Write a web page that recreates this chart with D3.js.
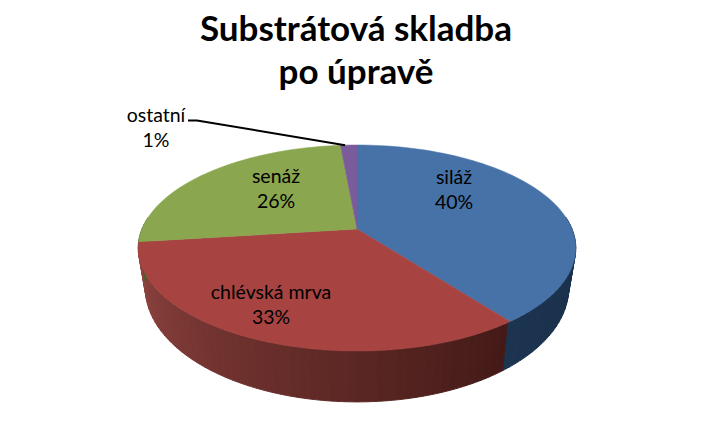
<!DOCTYPE html>
<html>
<head>
<meta charset="utf-8">
<script src="https://cdn.jsdelivr.net/npm/d3@7"></script>
<style>
  html, body { margin: 0; padding: 0; background: #fff; }
  svg { display: block; }
  text { font-family: Lato, sans-serif; fill: #000; }
</style>
</head>
<body>
<svg id="chart" width="710" height="439"></svg>
<script>
// Chart data
const titleLines = ["Substrátová skladba", "po úpravě"];
const categories = ["siláž", "chlévská mrva", "senáž", "ostatní"];
const shares = [39.6, 33.4, 25.55, 1.45];
const topColors = ["#4672a8", "#a74442", "#8aa64f", "#7a5b9b"];
const wallLight = ["#1c3450", "#924541", "#6f8640", "#5d4677"];
const wallDark = ["#182d47", "#421916", "#4c5c2b", "#3c2c4e"];

const svg = d3.select("#chart");
const cx = 357;

// Perspective projection of the pie's top face and bottom rim
const topFace = { c: 229, rx: 215, s: 99.5, k: 0.1845 };
const bottomFace = { c: 267, rx: 208, s: 110, k: 0.1845 };

function project(face, angle) {
    const u = Math.sin(angle);
    const v = -Math.cos(angle);
    const d = 1 - face.k * v;
    return [cx + face.rx * u / d, face.c + face.s * v / d];
}

const pie = d3.pie().sort(null).value(d => d);
const slices = pie(shares);
const TWO_PI = Math.PI * 2;

// Walls are only seen on the front half, cut in strips like the original shading
const wallStart = Math.PI / 2 - 0.12;
const wallEnd = Math.PI * 1.5 + 0.12;
const stripCount = 90;
const stripAngle = d3.scaleLinear().domain([0, stripCount]).range([wallStart, wallEnd]);

const walls = svg.append("g");
d3.range(stripCount).forEach(i => {
    const a0 = stripAngle(i);
    const a1 = stripAngle(i + 1);
    const mid = (a0 + a1) / 2;
    const index = slices.findIndex(s => mid >= s.startAngle && mid < s.endAngle);
    // dark where the slice's wall starts, lighter towards its far end
    const s = slices[index];
    const shade = d3.scaleLinear()
        .domain([Math.max(s.startAngle, wallStart), Math.min(s.endAngle, wallEnd)])
        .range([0, 1]);
    const color = d3.interpolateRgb(wallDark[index], wallLight[index])(shade(mid));
    const points = [];
    for (let j = 0; j <= 4; j++) points.push(project(topFace, a0 + (a1 - a0) * j / 4));
    for (let j = 4; j >= 0; j--) points.push(project(bottomFace, a0 + (a1 - a0) * j / 4));
    walls.append("path")
        .attr("d", d3.line()(points) + "Z")
        .attr("fill", color)
        .attr("stroke", color)
        .attr("stroke-width", 1);
});

// Top face
const faces = svg.append("g");
slices.forEach((s, i) => {
    const steps = Math.ceil((s.endAngle - s.startAngle) / TWO_PI * 180);
    const points = [[cx, topFace.c]];
    for (let j = 0; j <= steps; j++) {
        points.push(project(topFace, s.startAngle + (s.endAngle - s.startAngle) * j / steps));
    }
    faces.append("path")
        .attr("d", d3.line()(points) + "Z")
        .attr("fill", topColors[i])
        .attr("stroke", topColors[i])
        .attr("stroke-width", 0.5);
});

// Leader line for the small slice
const last = slices[3];
const leaderEnd = project(topFace, (last.startAngle + last.endAngle) / 2 - 0.02);
svg.append("path")
    .attr("d", d3.line()([[188, 120.5], [197, 120.5], leaderEnd]))
    .attr("fill", "none")
    .attr("stroke", "#000")
    .attr("stroke-width", 2);

// Title
svg.append("g").selectAll("text").data(titleLines).join("text")
    .attr("x", 356)
    .attr("y", (d, i) => 41 + i * 43)
    .attr("text-anchor", "middle")
    .attr("font-size", 35)
    .attr("font-weight", 700)
    .text(d => d);

// Slice labels
const labelPos = [[454, 184], [271, 299], [276, 183], [156, 122]];
const labels = svg.append("g");
categories.forEach((name, i) => {
    const t = labels.append("text")
        .attr("text-anchor", "middle")
        .attr("font-size", 19.5);
    t.append("tspan").attr("x", labelPos[i][0]).attr("y", labelPos[i][1]).text(name);
    t.append("tspan").attr("x", labelPos[i][0]).attr("y", labelPos[i][1] + 25).text(Math.round(shares[i]) + "%");
});
</script>
</body>
</html>
